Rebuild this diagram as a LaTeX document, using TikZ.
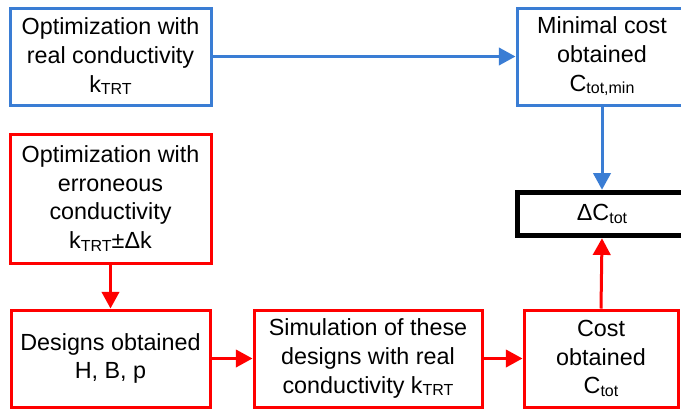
\documentclass[tikz,border=0pt]{standalone}
\usepackage{fontspec}
\setmainfont{Liberation Sans}
\usetikzlibrary{arrows.meta}
\newlength{\du}
\setlength{\du}{0.75pt}
\newcommand{\lowsub}[1]{\raisebox{-2pt}{\fontsize{12}{12}\selectfont #1}}
\definecolor{costblue}{RGB}{58,125,212}
\definecolor{costred}{RGB}{255,0,0}
\tikzset{
  flowbox/.style={draw, align=center, inner sep=0pt, font=\fontsize{17.5}{21.5}\selectfont},
  realbox/.style={flowbox, draw=costblue, line width=3\du},
  errbox/.style={flowbox, draw=costred, line width=3\du},
  deltabox/.style={flowbox, draw=black, line width=5\du},
  flowarrow/.style={line width=3\du, -{Triangle[length=12.5pt, width=13pt]}},
}

\begin{document}
\begin{tikzpicture}
\pgftransformxscale{1.000000}
\pgftransformyscale{-1.000000}
\useasboundingbox (0\du,0\du) rectangle (681\du,411\du);
% blue path
\node[realbox, minimum width=201\du, minimum height=97\du] (realopt) at (110.5\du,56.5\du){Optimization with\\real conductivity\\k\lowsub{TRT}};
\node[realbox, minimum width=170\du, minimum height=97\du] (mincost) at (602\du,56.5\du){Minimal cost\\obtained\\C\lowsub{tot,min}};
% red path
\node[errbox, minimum width=201\du, minimum height=129\du] (erropt) at (110.5\du,198.5\du){Optimization with\\erroneous\\conductivity\\k\lowsub{TRT}±Δk};
\node[errbox, minimum width=199\du, minimum height=97\du] (designs) at (110.5\du,358.5\du){Designs obtained\\H, B, p};
\node[errbox, minimum width=228\du, minimum height=97\du] (simul) at (368\du,358.5\du){Simulation of these\\designs with real\\conductivity k\lowsub{TRT}};
\node[errbox, minimum width=154\du, minimum height=97\du] (cost) at (601\du,358.5\du){Cost\\obtained\\C\lowsub{tot}};
% difference
\node[deltabox, minimum width=169\du, minimum height=43.5\du] (delta) at (602\du,214\du){ΔC\lowsub{tot}};
\draw[flowarrow, costblue] (realopt.east) -- (mincost.west);
\draw[flowarrow, costblue] (mincost.south) -- (delta.north);
\draw[flowarrow, costred] (erropt.south) -- (designs.north);
\draw[flowarrow, costred] (designs.east) -- (simul.west);
\draw[flowarrow, costred] (simul.east) -- (cost.west);
\draw[flowarrow, costred] (cost.north) -- (delta.south);
\end{tikzpicture}
\end{document}
